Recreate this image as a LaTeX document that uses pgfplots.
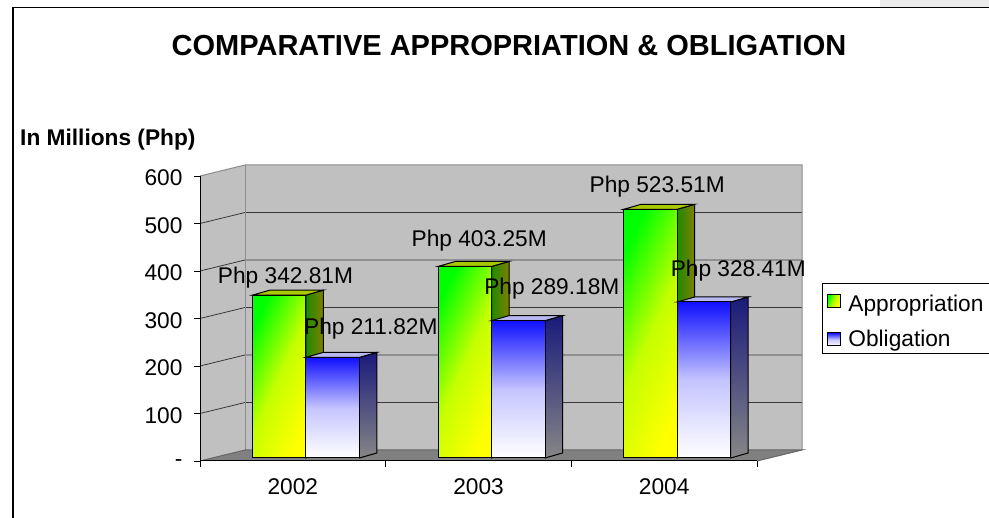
\documentclass[border=0pt]{standalone}
\usepackage{fontspec}
\setmainfont{Liberation Sans}
\usepackage{pgfplots}
\pgfplotsset{compat=1.18}
\definecolor{wallgray}{HTML}{C0C0C0}
\definecolor{floorgray}{HTML}{808080}
\definecolor{gridc}{HTML}{383838}
\definecolor{edgec}{HTML}{8C8C8C}
\definecolor{appfront1}{HTML}{00FF00}
\definecolor{appfrontm}{HTML}{C4FF00}
\definecolor{appfront2}{HTML}{FFFF00}
\definecolor{appside1}{HTML}{1E8A00}
\definecolor{appside2}{HTML}{808000}
\definecolor{apptop}{HTML}{A8C800}
\definecolor{oblfront1}{HTML}{1010FF}
\definecolor{oblfront2}{HTML}{C4C4FF}
\definecolor{oblfront3}{HTML}{FFFFFF}
\definecolor{oblside1}{HTML}{1A1A7C}
\definecolor{oblside2}{HTML}{868686}
\definecolor{obltop}{HTML}{B8B8F0}
\newcommand{\lblfont}{\fontsize{22.7}{26}\selectfont}
\tikzset{
  appfront/.style={draw=black, line width=1pt, left color=appfront1, right color=appfront2, middle color=appfrontm, shading angle=65},
  appside/.style={draw=black, line width=1pt, left color=appside1, right color=appside2},
  apptopst/.style={draw=black, line width=1pt, fill=apptop},
  oblfront/.style={draw=black, line width=1pt, top color=oblfront1, bottom color=oblfront3, middle color=oblfront2},
  oblside/.style={draw=black, line width=1pt, top color=oblside1, bottom color=oblside2},
  obltopst/.style={draw=black, line width=1pt, fill=obltop},
  dlabel/.style={anchor=base, inner sep=0pt, font=\lblfont},
}
% #1 = category centre, #2 = value
\newcommand{\appbar}[2]{%
  \path[appside] ([xshift=13pt]axis cs:#1,0) -- ([xshift=13pt]axis cs:#1,#2) -- ([xshift=30.5pt,yshift=5pt]axis cs:#1,#2) -- ([xshift=30.5pt,yshift=5pt]axis cs:#1,0) -- cycle;
  \path[apptopst] ([xshift=-40.5pt]axis cs:#1,#2) -- ([xshift=-23pt,yshift=5pt]axis cs:#1,#2) -- ([xshift=30.5pt,yshift=5pt]axis cs:#1,#2) -- ([xshift=13pt]axis cs:#1,#2) -- cycle;
  \addplot[ybar, bar width=53.5pt, bar shift=-13.75pt, appfront, forget plot] coordinates {(#1,#2)};
}
\newcommand{\oblbar}[2]{%
  \path[oblside] ([xshift=66.5pt]axis cs:#1,0) -- ([xshift=66.5pt]axis cs:#1,#2) -- ([xshift=84pt,yshift=5pt]axis cs:#1,#2) -- ([xshift=84pt,yshift=5pt]axis cs:#1,0) -- cycle;
  \path[obltopst] ([xshift=13pt]axis cs:#1,#2) -- ([xshift=30.5pt,yshift=5pt]axis cs:#1,#2) -- ([xshift=84pt,yshift=5pt]axis cs:#1,#2) -- ([xshift=66.5pt]axis cs:#1,#2) -- cycle;
  \addplot[ybar, bar width=53.5pt, bar shift=39.75pt, oblfront, forget plot] coordinates {(#1,#2)};
}
\begin{document}
\begin{tikzpicture}
\useasboundingbox (0,0) rectangle (989pt,518pt);
\fill[white] (0,0) rectangle (989pt,518pt);
\fill[black!8] (880pt,511pt) rectangle (989pt,518pt);
\draw[line width=1.5pt] (13pt,0) -- (13pt,510.7pt) -- (989pt,510.7pt);
\node[anchor=base, inner sep=0pt, font=\fontsize{29}{33}\selectfont\bfseries] at (509pt,462.5pt) {COMPARATIVE APPROPRIATION \& OBLIGATION};
\node[anchor=base west, inner sep=0pt, font=\fontsize{22.7}{26}\selectfont\bfseries] at (20pt,372pt) {In Millions (Php)};

% front plane: walls, grid, axes, ticks
\begin{axis}[
  at={(200pt,57pt)}, anchor=origin,
  x=185.67pt, y=0.475pt,
  xmin=0, xmax=3, ymin=0, ymax=600,
  clip=false, axis on top,
  axis lines*=left,
  axis line style={black, line width=1pt},
  tick align=outside, major tick length=6pt,
  tick style={black, line width=0.8pt},
  ytick={0,100,...,600}, yticklabels={-,100,200,300,400,500,600},
  xtick={0,1,2,3}, x tick label as interval, xticklabels={2002,2003,2004},
  ticklabel style={font=\lblfont},
  yticklabel style={xshift=-8pt, yshift=-2pt},
  xticklabel style={yshift=-8.5pt},
]
\fill[wallgray] (axis cs:0,0) -- (axis cs:0,600) -- ([shift={(45pt,11pt)}]axis cs:0,600) -- ([shift={(45pt,11pt)}]axis cs:3,600) -- ([shift={(45pt,11pt)}]axis cs:3,0) -- ([shift={(45pt,11pt)}]axis cs:0,0) -- cycle;
\fill[floorgray] (axis cs:0,0) -- (axis cs:3,0) -- ([shift={(45pt,11pt)}]axis cs:3,0) -- ([shift={(45pt,11pt)}]axis cs:0,0) -- cycle;
\pgfplotsinvokeforeach{100,200,300,400,500}{
  \draw[gridc, line width=0.8pt] (axis cs:0,#1) -- ([shift={(45pt,11pt)}]axis cs:0,#1) -- ([shift={(45pt,11pt)}]axis cs:3,#1);
}
\draw[edgec, line width=1pt] (axis cs:0,600) -- ([shift={(45pt,11pt)}]axis cs:0,600) -- ([shift={(45pt,11pt)}]axis cs:3,600) -- ([shift={(45pt,11pt)}]axis cs:3,0);
\draw[edgec, line width=1pt] ([shift={(45pt,11pt)}]axis cs:0,0) -- ([shift={(45pt,11pt)}]axis cs:0,600);
\draw[black!60, line width=1pt] (axis cs:0,0) -- ([shift={(45pt,11pt)}]axis cs:0,0) -- ([shift={(45pt,11pt)}]axis cs:3,0) -- (axis cs:3,0);
\end{axis}

% bar plane (slightly behind the front plane)
\begin{axis}[
  at={(200pt,60pt)}, anchor=origin,
  x=185.67pt, y=0.475pt,
  xmin=0, xmax=3, ymin=0, ymax=600,
  clip=false, hide axis,
  legend style={at={(1.1167,0.614)}, anchor=north west, draw=black, line width=0.8pt,
    fill=white, font=\lblfont, inner xsep=5pt, inner ysep=3pt, row sep=13.5pt,
    cells={anchor=west}},
  legend image code/.code={\path[#1, line width=1pt] (3pt,-6.5pt) rectangle (16pt,6.5pt); \path (21pt,0pt);},
]
\appbar{0.5}{342.81}
\oblbar{0.5}{211.82}
\appbar{1.5}{403.25}
\oblbar{1.5}{289.18}
\appbar{2.5}{523.51}
\oblbar{2.5}{328.41}
\addlegendimage{appfront}
\addlegendentry{\rule{0pt}{23pt}Appropriation}
\addlegendimage{oblfront}
\addlegendentry{Obligation}
\node[dlabel] at (axis cs:0.4605,367.8) {Php 342.81M};
\node[dlabel] at (axis cs:1.5037,444.8) {Php 403.25M};
\node[dlabel] at (axis cs:2.4624,559.4) {Php 523.51M};
\node[dlabel] at (axis cs:0.9199,260.4) {Php 211.82M};
\node[dlabel] at (axis cs:1.8948,344.6) {Php 289.18M};
\node[dlabel] at (axis cs:2.8992,381.7) {Php 328.41M};
\end{axis}
\end{tikzpicture}
\end{document}
